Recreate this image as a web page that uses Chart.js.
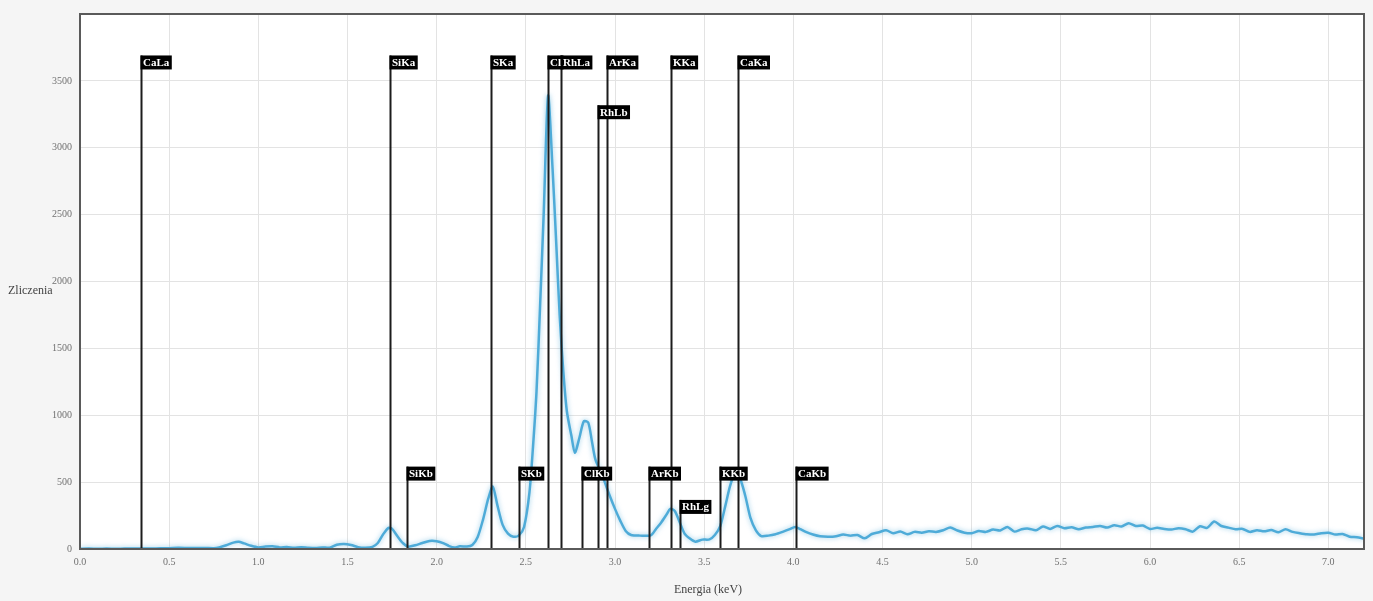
<!DOCTYPE html>
<html>
<head>
<meta charset="utf-8">
<title>Widmo XRF</title>
<script src="https://cdn.jsdelivr.net/npm/chart.js@4.4.1/dist/chart.umd.min.js"></script>
<style>
    html, body { margin: 0; padding: 0; background: #f5f5f5; }
    #wrap { width: 1373px; height: 601px; }
</style>
</head>
<body>
<div id="wrap"><canvas id="spectrumChart" width="1373" height="601"></canvas></div>
<script>
const energies = [
    0.00, 0.05, 0.10, 0.15, 0.20, 0.25, 0.30, 0.35, 0.40, 0.45, 0.50, 0.55, 0.60, 0.65, 0.70, 0.75,
    0.78, 0.82, 0.86, 0.89, 0.92, 0.96, 1.00, 1.04, 1.08, 1.12, 1.16, 1.20, 1.24, 1.28, 1.32, 1.36,
    1.40, 1.44, 1.48, 1.52, 1.56, 1.60, 1.64, 1.67, 1.70, 1.73, 1.75, 1.78, 1.81, 1.84, 1.88, 1.92,
    1.96, 2.00, 2.04, 2.07, 2.10, 2.13, 2.17, 2.20, 2.23, 2.26, 2.29, 2.315, 2.34, 2.37, 2.40, 2.43,
    2.46, 2.49, 2.52, 2.54, 2.56, 2.58, 2.60, 2.625, 2.65, 2.67, 2.69, 2.71, 2.73, 2.755, 2.775, 2.80,
    2.825, 2.85, 2.87, 2.89, 2.93, 2.97, 3.00, 3.03, 3.06, 3.09, 3.14, 3.20, 3.23, 3.26, 3.29, 3.31,
    3.335, 3.36, 3.39, 3.42, 3.45, 3.49, 3.53, 3.56, 3.59, 3.62, 3.645, 3.67, 3.70, 3.73, 3.76, 3.79,
    3.82, 3.86, 3.90, 3.94, 3.98, 4.01, 4.04, 4.07, 4.11, 4.15,
    4.20, 4.24, 4.28, 4.32, 4.36, 4.40, 4.44, 4.48, 4.52, 4.56, 4.60, 4.64, 4.68, 4.72, 4.76, 4.80,
    4.84, 4.88, 4.92, 4.96, 5.00, 5.04, 5.08, 5.12, 5.16, 5.20, 5.24, 5.28, 5.32, 5.36, 5.40, 5.44,
    5.48, 5.52, 5.56, 5.60, 5.64, 5.68, 5.72, 5.76, 5.80, 5.84, 5.88, 5.92, 5.96, 6.00, 6.04, 6.08,
    6.12, 6.16, 6.20, 6.24, 6.28, 6.32, 6.36, 6.40, 6.44, 6.48, 6.52, 6.56, 6.60, 6.64, 6.68, 6.72,
    6.76, 6.80, 6.84, 6.88, 6.92, 6.96, 7.00, 7.04, 7.08, 7.12, 7.16, 7.20
];
const counts = [
    2, 3, 2, 3, 2, 3, 3, 4, 4, 5, 6, 9, 8, 7, 8, 6,
    12, 28, 48, 54, 42, 24, 12, 18, 20, 12, 15, 9, 14, 10, 8, 12,
    10, 32, 38, 30, 14, 10, 16, 45, 110, 158, 150, 95, 45, 18, 28, 45,
    60, 58, 42, 22, 12, 20, 18, 30, 90, 220, 380, 466, 330, 180, 115, 92,
    100, 165, 420, 760, 1180, 1820, 2500, 3390, 2840, 2300, 1740, 1330, 1030, 850, 720, 830,
    955, 945, 810, 670, 545, 400, 300, 210, 135, 105, 100, 102, 150, 200, 260, 300,
    285, 210, 115, 78, 55, 70, 72, 105, 170, 330, 470, 555, 530, 400, 230, 140,
    97, 100, 110, 128, 148, 165, 148, 128, 108, 95,
    92, 96, 108, 100, 104, 80, 112, 125, 140, 118, 130, 110, 128, 122, 132, 128,
    140, 160, 138, 122, 118, 135, 128, 145, 138, 165, 130, 148, 152, 140, 168, 150,
    172, 155, 162, 148, 160, 165, 172, 160, 178, 168, 192, 172, 175, 150, 158, 150,
    146, 155, 148, 130, 170, 158, 205, 172, 160, 148, 150, 128, 140, 132, 142, 125,
    148, 128, 118, 110, 108, 118, 122, 108, 112, 92, 88, 78
];

// linie charakterystyczne: nazwa, energia (keV), wysokosc etykiety (zliczenia)
const markerNames = ['CaLa', 'SiKa', 'SKa', 'Cl', 'RhLa', 'ArKa', 'KKa', 'CaKa', 'RhLb',
    'SiKb', 'SKb', 'ClKb', 'ArKb', 'RhLg', 'KKb', 'CaKb'];
const markerEnergies = [0.341, 1.740, 2.307, 2.622, 2.696, 2.957, 3.313, 3.691, 2.907,
    1.836, 2.464, 2.815, 3.190, 3.364, 3.589, 4.013];
const markerHeights = [3690, 3690, 3690, 3690, 3690, 3690, 3690, 3690, 3318,
    616, 616, 616, 616, 367, 616, 616];

const xAxisTitle = 'Energia (keV)';
const yAxisTitle = 'Zliczenia';

document.addEventListener('DOMContentLoaded', function () {
    const canvas = document.getElementById('spectrumChart');
    const serif = '"Liberation Serif", "Times New Roman", serif';

    const points = energies.map((e, i) => ({ x: e, y: counts[i] }));

    const backgroundPlugin = {
        id: 'plotBackground',
        beforeDraw(chart) {
            const { ctx, chartArea: a } = chart;
            ctx.save();
            ctx.fillStyle = '#f5f5f5';
            ctx.fillRect(0, 0, chart.width, chart.height);
            ctx.fillStyle = '#ffffff';
            ctx.fillRect(a.left, a.top, a.right - a.left, a.bottom - a.top);
            ctx.restore();
        }
    };

    const glowPlugin = {
        id: 'lineGlow',
        beforeDatasetsDraw(chart) {
            chart.ctx.save();
            chart.ctx.shadowColor = 'rgba(80, 170, 215, 0.6)';
            chart.ctx.shadowBlur = 5;
        },
        afterDatasetsDraw(chart) {
            chart.ctx.restore();
        }
    };

    const markerPlugin = {
        id: 'elementMarkers',
        afterDatasetsDraw(chart) {
            const { ctx, chartArea: a, scales } = chart;
            const x = scales.x, y = scales.y;
            const y0 = y.getPixelForValue(0);
            ctx.save();
            ctx.strokeStyle = '#1c1c1c';
            ctx.lineWidth = 2;
            markerNames.forEach((name, i) => {
                const px = Math.round(x.getPixelForValue(markerEnergies[i])) + 0.5;
                const top = y.getPixelForValue(markerHeights[i]);
                ctx.beginPath();
                ctx.moveTo(px, y0);
                ctx.lineTo(px, top);
                ctx.stroke();
            });
            ctx.font = 'bold 11px ' + serif;
            ctx.textBaseline = 'middle';
            // najpierw tla etykiet, potem teksty (Cl nie zostaje zasloniete)
            ctx.fillStyle = '#000000';
            markerNames.forEach((name, i) => {
                const px = Math.round(x.getPixelForValue(markerEnergies[i])) - 0.5;
                const top = y.getPixelForValue(markerHeights[i]);
                ctx.fillRect(px, top, ctx.measureText(name).width + 5, 14);
            });
            ctx.fillStyle = '#ffffff';
            markerNames.forEach((name, i) => {
                const px = Math.round(x.getPixelForValue(markerEnergies[i])) - 0.5;
                const top = y.getPixelForValue(markerHeights[i]);
                ctx.fillText(name, px + 2.5, top + 7.5);
            });

            // ramka obszaru wykresu
            ctx.strokeStyle = '#5a5a5a';
            ctx.lineWidth = 2;
            ctx.strokeRect(a.left, a.top, a.right - a.left, a.bottom - a.top);

            // opisy osi
            ctx.fillStyle = '#444444';
            ctx.font = '12px ' + serif;
            ctx.textAlign = 'center';
            ctx.textBaseline = 'middle';
            ctx.fillText(xAxisTitle, 708, 590);
            ctx.textAlign = 'left';
            ctx.fillText(yAxisTitle, 8, 291);
            ctx.restore();
        }
    };

    const chartConfig = {
        type: 'line',
        data: {
            datasets: [{
                label: 'Widmo',
                data: points,
                borderColor: '#4eabd8',
                borderWidth: 2.5,
                pointRadius: 0,
                tension: 0.25,
                fill: false
            }]
        },
        options: {
            responsive: false,
            animation: false,
            devicePixelRatio: 1,
            layout: {
                padding: { top: 14, right: 9, left: 0, bottom: 0 }
            },
            plugins: {
                legend: { display: false },
                tooltip: { enabled: false },
                title: { display: false }
            },
            scales: {
                x: {
                    type: 'linear',
                    min: 0,
                    max: 7.2,
                    afterFit: (scale) => { scale.height = 52; },
                    border: { display: false },
                    grid: { color: '#e3e3e3', drawTicks: false },
                    ticks: {
                        stepSize: 0.5,
                        includeBounds: false,
                        padding: 7,
                        maxRotation: 0,
                        color: '#707070',
                        font: { family: serif, size: 10 },
                        callback: (v) => v.toFixed(1)
                    }
                },
                y: {
                    type: 'linear',
                    min: 0,
                    max: 4000,
                    afterFit: (scale) => { scale.width = 80; },
                    border: { display: false },
                    grid: { color: '#e3e3e3', drawTicks: false },
                    ticks: {
                        stepSize: 500,
                        padding: 8,
                        color: '#707070',
                        font: { family: serif, size: 10 },
                        callback: (v) => (v >= 4000 ? '' : v)
                    }
                }
            }
        },
        plugins: [backgroundPlugin, glowPlugin, markerPlugin]
    };

    new Chart(canvas, chartConfig);
});
</script>
</body>
</html>
